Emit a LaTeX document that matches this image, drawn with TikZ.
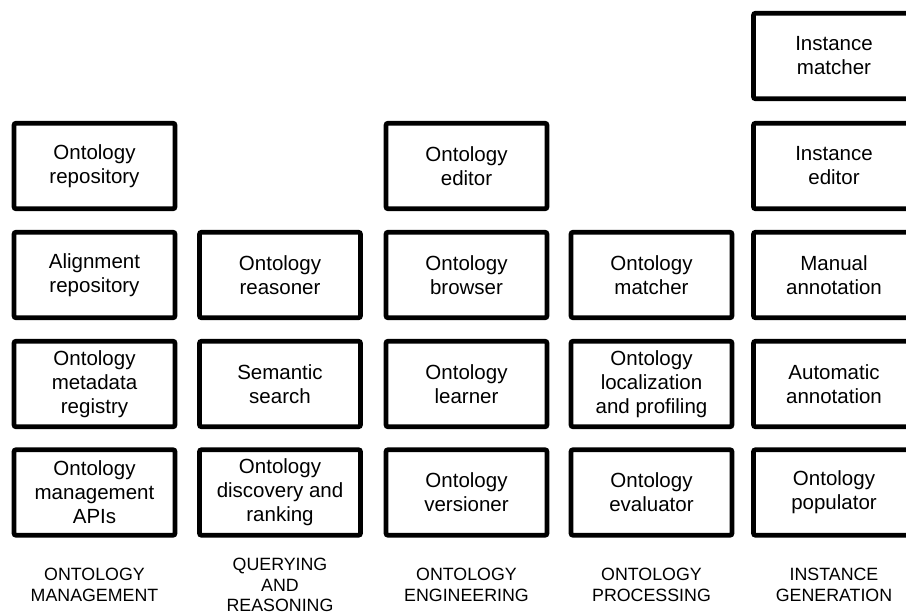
\documentclass[tikz,border=0pt]{standalone}
\usepackage{fontspec}
\setmainfont{Liberation Sans}
\begin{document}
\begin{tikzpicture}[x=1pt,y=-1pt,
  tool/.style={draw=black, line width=4.7pt, rounded corners=2pt, minimum width=161pt, minimum height=85.5pt, inner sep=0pt, align=center, font=\fontsize{20.5}{24}\selectfont, text=black},
  cat/.style={align=center, font=\fontsize{17.8}{20.5}\selectfont, text=black}]
\useasboundingbox (0,0) rectangle (906,615);
% column 1: ontology management
\node[tool] (m1) at (94.5,166) {Ontology\\repository};
\node[tool] (m2) at (94.5,275) {Alignment\\repository};
\node[tool] (m3) at (94.5,384) {Ontology\\metadata\\registry};
\node[tool] (m4) at (94.5,492.5) {Ontology\\management\\APIs};
% column 2: querying and reasoning
\node[tool] (q1) at (280,275) {Ontology\\reasoner};
\node[tool] (q2) at (280,384) {Semantic\\search};
\node[tool] (q3) at (280,492.5) {Ontology\\discovery and\\ranking};
% column 3: ontology engineering
\node[tool] (e1) at (466.5,166) {Ontology\\editor};
\node[tool] (e2) at (466.5,275) {Ontology\\browser};
\node[tool] (e3) at (466.5,384) {Ontology\\learner};
\node[tool] (e4) at (466.5,492.5) {Ontology\\versioner};
% column 4: ontology processing
\node[tool] (p1) at (651.5,275) {Ontology\\matcher};
\node[tool] (p2) at (651.5,384) {Ontology\\localization\\and profiling};
\node[tool] (p3) at (651.5,492.5) {Ontology\\evaluator};
% column 5: instance generation
\node[tool] (i1) at (834,56) {Instance\\matcher};
\node[tool] (i2) at (834,166) {Instance\\editor};
\node[tool] (i3) at (834,275) {Manual\\annotation};
\node[tool] (i4) at (834,384) {Automatic\\annotation};
\node[tool] (i5) at (834,492.5) {Ontology\\populator};
% category labels
\node[cat] (lm) at (94.5,585) {ONTOLOGY\\MANAGEMENT};
\node[cat] (lq) at (280,585) {QUERYING\\AND\\REASONING};
\node[cat] (le) at (466.5,585) {ONTOLOGY\\ENGINEERING};
\node[cat] (lp) at (651.5,585) {ONTOLOGY\\PROCESSING};
\node[cat] (li) at (834,585) {INSTANCE\\GENERATION};
\end{tikzpicture}
\end{document}
